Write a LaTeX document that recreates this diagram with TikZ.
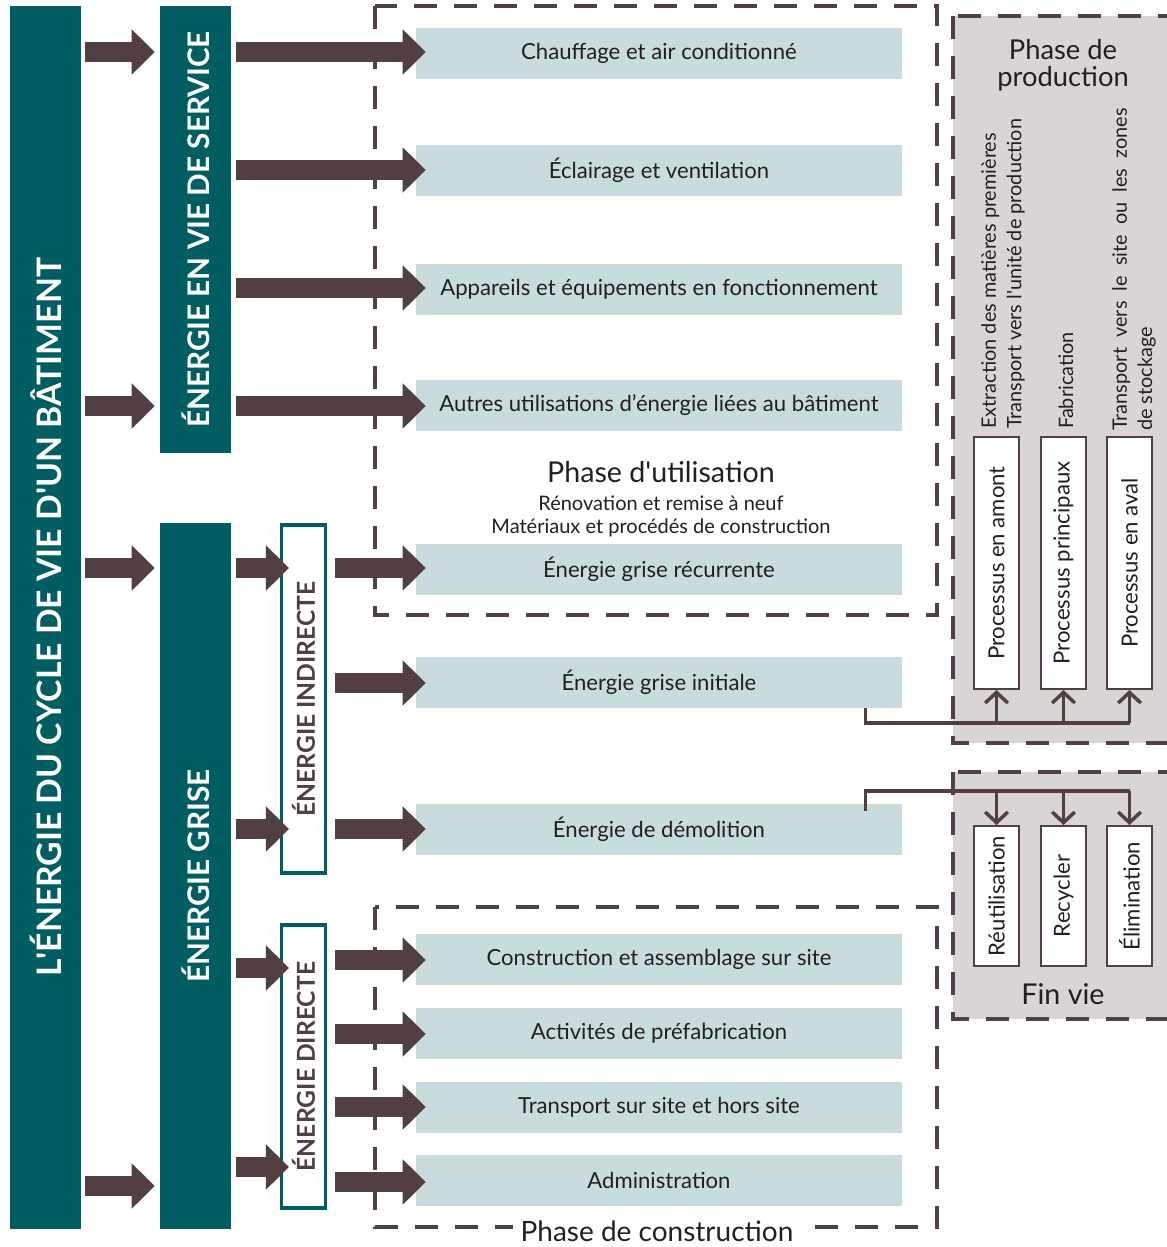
\documentclass[tikz,border=0pt]{standalone}
\usepackage{fontspec}
\setmainfont{Lato}
\usetikzlibrary{arrows.meta,calc}
\definecolor{myteal}{HTML}{005E63}
\definecolor{mybrown}{HTML}{523F41}
\definecolor{myblue}{HTML}{C8DCDD}
\definecolor{mygray}{HTML}{DAD5D5}
\definecolor{mytext}{HTML}{231F20}
\def\px{0.75pt}
\def\sq{\textquotesingle}
\tikzset{
  bar/.style={fill=myteal, draw=none, inner sep=0pt, text=white, font=\bfseries},
  bbox/.style={fill=myblue, draw=none, inner sep=0pt, minimum width=486*\px, minimum height=51*\px, text=mytext, font=\fontsize{16.6}{18}\selectfont},
  ebox/.style={draw=myteal, line width=2.3pt, fill=white, inner sep=0pt, minimum width=44*\px, text=mybrown, font=\fontsize{18.5}{20}\selectfont\bfseries},
  pbox/.style={draw=mybrown, line width=1.5pt, fill=white, inner sep=0pt, minimum width=45*\px, text=mytext, font=\fontsize{16.6}{18}\selectfont},
  dashbox/.style={draw=mybrown, line width=3pt, dash pattern=on 17pt off 13pt},
  fat/.style={draw=mybrown, line width=15pt, -{Triangle[length=17.25pt,width=33pt]}},
  conn/.style={draw=mybrown, line width=2.6pt},
  carrow/.style={conn, -{Straight Barb[length=8pt,width=17pt,line width=2.6pt]}},
  lbl/.style={text=mytext, inner sep=0pt},
}
\begin{document}
\begin{tikzpicture}[x=0.75pt,y=-0.75pt]
\clip (0,0) rectangle (1167,1247);
\fill[white] (0,0) rectangle (1167,1247);

% grey panels
\draw[dashbox, fill=mygray] (953,16) rectangle (1180,743);
\draw[dashbox, fill=mygray] (953,772) rectangle (1180,1019);

% dashed phase frames
\draw[dashbox] (375,6) rectangle (937,615);
\draw[dashbox] (375,907) rectangle (937,1227);

% bars
\node[bar, minimum width=71*\px, minimum height=1223*\px] (bar1) at (45.5,617.5)
  {\rotatebox{90}{\fontsize{25.3}{28}\selectfont L\sq ÉNERGIE DU CYCLE DE VIE D\sq UN BÂTIMENT}};
\node[bar, minimum width=71*\px, minimum height=447*\px] (bar2) at (195.5,229.5)
  {\rotatebox{90}{\fontsize{22.3}{24}\selectfont ÉNERGIE EN VIE DE SERVICE}};
\node[bar, minimum width=71*\px, minimum height=706*\px] (bar3) at (195.5,876)
  {\rotatebox{90}{\fontsize{22.3}{24}\selectfont ÉNERGIE GRISE}};

% blue boxes
\node[bbox] (b1) at (659,53) {Chauffage et air conditionné};
\node[bbox] (b2) at (659,170) {Éclairage et ventilation};
\node[bbox] (b3) at (659,289.5) {Appareils et équipements en fonctionnement};
\node[bbox] (b4) at (659,405.5) {Autres utilisations d’énergie liées au bâtiment};
\node[bbox] (b5) at (659,569.5) {Énergie grise récurrente};
\node[bbox] (b6) at (659,682.5) {Énergie grise initiale};
\node[bbox] (b7) at (659,829.5) {Énergie de démolition};
\node[bbox] (b8) at (659,959.5) {Construction et assemblage sur site};
\node[bbox] (b9) at (659,1033.5) {Activités de préfabrication};
\node[bbox] (b10) at (659,1107.5) {Transport sur site et hors site};
\node[bbox] (b11) at (659,1180.5) {Administration};

% indirect / direct boxes
\node[ebox, minimum height=348*\px] (ind) at (303.5,699) {\rotatebox{90}{ÉNERGIE INDIRECTE}};
\node[ebox, minimum height=283*\px] (dir) at (303.5,1066.5) {\rotatebox{90}{ÉNERGIE DIRECTE}};

% phase labels
\node[lbl, font=\fontsize{21.5}{24}\selectfont] (pu) at (661,472) {Phase d\sq utilisation};
\node[lbl, font=\fontsize{15}{17.3}\selectfont, align=center] (pus) at (661,516)
  {Rénovation et remise à neuf\\Matériaux et procédés de construction};
\node[lbl, fill=white, inner xsep=6pt, inner ysep=1pt, font=\fontsize{21}{24}\selectfont] (pc) at (657,1231) {Phase de construction};

% production panel
\node[lbl, align=center, font=\fontsize{20.5}{20.5}\selectfont] (pp) at (1063,65) {Phase de\\production};
\node[lbl, rotate=90, anchor=west, align=left, font=\fontsize{14.9}{19}\selectfont] (t1) at (1003,429)
  {Extraction des matières premières\\Transport vers l\sq unité de production};
\node[lbl, rotate=90, anchor=west, font=\fontsize{14.9}{19}\selectfont] (t2) at (1066,429) {Fabrication};
\node[lbl, rotate=90, anchor=west, align=left, font=\fontsize{14.9}{19}\selectfont] (t3) at (1134,431)
  {Transport\ \ vers\ \ le\ \ site\ \ ou\ \ les\ \ zones\\de stockage};

\node[pbox, minimum height=252*\px] (pa) at (996.5,563) {\rotatebox{90}{Processus en amont}};
\node[pbox, minimum height=252*\px] (pb) at (1063.5,563) {\rotatebox{90}{Processus principaux}};
\node[pbox, minimum height=252*\px] (pcx) at (1129.5,563) {\rotatebox{90}{Processus en aval}};

% fin vie panel
\node[pbox, minimum height=140*\px] (fa) at (996.5,896) {\rotatebox{90}{Réutilisation}};
\node[pbox, minimum height=140*\px] (fb) at (1063.5,896) {\rotatebox{90}{Recycler}};
\node[pbox, minimum height=140*\px] (fc) at (1129.5,896) {\rotatebox{90}{Élimination}};
\node[lbl, font=\fontsize{21.5}{24}\selectfont] (fv) at (1063,994) {Fin vie};

% connectors to production
\draw[conn] ($(b6.south east)+(-37,0)$) |- ($(pcx.south)+(0,33)$);
\draw[carrow] ($(pa.south)+(0,33)$) -- (pa.south);
\draw[carrow] ($(pb.south)+(0,33)$) -- (pb.south);
\draw[carrow] ($(pcx.south)+(0,33)$) -- (pcx.south);
% connectors to fin vie
\draw[conn] ($(b7.north east)+(-37,7)$) |- ($(fc.north)+(0,-34)$);
\draw[carrow] ($(fa.north)+(0,-34)$) -- (fa.north);
\draw[carrow] ($(fb.north)+(0,-34)$) -- (fb.north);
\draw[carrow] ($(fc.north)+(0,-34)$) -- (fc.north);

% fat arrows: column 1
\draw[fat] ($(bar1.east |- 0,52)+(4,0)$) -- ($(bar2.west |- 0,52)+(-5,0)$);
\draw[fat] ($(bar1.east |- 0,406)+(4,0)$) -- ($(bar2.west |- 0,406)+(-5,0)$);
\draw[fat] ($(bar1.east |- 0,568)+(4,0)$) -- ($(bar3.west |- 0,568)+(-5,0)$);
\draw[fat] ($(bar1.east |- 0,1186)+(4,0)$) -- ($(bar3.west |- 0,1186)+(-5,0)$);
% column 2 top
\foreach \b/\y in {b1/52,b2/170,b3/288,b4/406}{
  \draw[fat] ($(bar2.east |- 0,\y)+(5,0)$) -- ($(\b.west |- 0,\y)+(10,0)$);
}
% into indirect/direct
\foreach \y in {568,829}{
  \draw[fat] ($(bar3.east |- 0,\y)+(5,0)$) -- ($(ind.west |- 0,\y)+(9,0)$);
}
\foreach \y in {968,1167}{
  \draw[fat] ($(bar3.east |- 0,\y)+(5,0)$) -- ($(dir.west |- 0,\y)+(9,0)$);
}
% out of indirect/direct
\foreach \b/\y in {b5/568,b6/683,b7/829}{
  \draw[fat] ($(ind.east |- 0,\y)+(8,0)$) -- ($(\b.west |- 0,\y)+(10,0)$);
}
\foreach \b/\y in {b8/960,b9/1034,b10/1107,b11/1182}{
  \draw[fat] ($(dir.east |- 0,\y)+(8,0)$) -- ($(\b.west |- 0,\y)+(10,0)$);
}
\end{tikzpicture}
\end{document}
